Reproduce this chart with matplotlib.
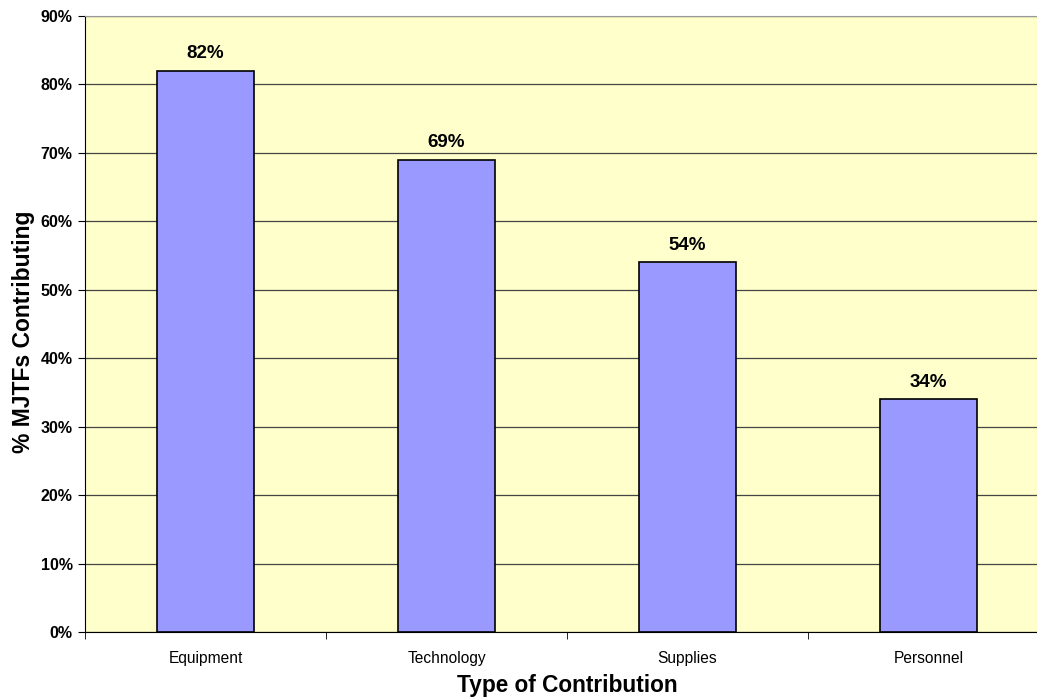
import matplotlib
matplotlib.use('Agg')
import matplotlib.pyplot as plt
from matplotlib.ticker import MultipleLocator, FixedLocator, FuncFormatter

categories = ['Equipment', 'Technology', 'Supplies', 'Personnel']
values = [82, 69, 54, 34]

plt.rcParams['font.family'] = ['Liberation Sans', 'DejaVu Sans']

fig = plt.figure(figsize=(10.37, 6.98), dpi=100)
ax = fig.add_axes([0.082, 0.0946, 0.9294, 0.8825])
ax.set_facecolor('#FFFFCC')

x = list(range(len(categories)))
ax.bar(x, values, width=0.4, color='#9999FF', edgecolor='black', linewidth=1.2, zorder=3)

for xi, v in zip(x, values):
    ax.annotate('{0}%'.format(v), (xi, v), xytext=(0, 6), textcoords='offset points',
                ha='center', va='bottom', fontsize=13.5, fontweight='bold')

ax.set_xlim(-0.5, len(categories) - 0.5)
ax.set_ylim(0, 90)
ax.yaxis.set_major_locator(MultipleLocator(10))
ax.yaxis.set_major_formatter(FuncFormatter(lambda v, p: '{0:.0f}%'.format(v)))
ax.grid(axis='y', color='#444444', linewidth=0.9, zorder=1)

ax.set_xticks(x)
ax.set_xticklabels(categories, fontsize=11.2)
ax.tick_params(axis='x', which='major', length=0, pad=14)
ax.xaxis.set_minor_locator(FixedLocator([i + 0.5 for i in range(-1, len(categories))]))
ax.tick_params(axis='x', which='minor', length=5, direction='out')
ax.tick_params(axis='y', length=5, direction='out', labelsize=11.5, pad=4)
for lbl in ax.get_yticklabels():
    lbl.set_fontweight('bold')

ax.spines['right'].set_visible(False)
ax.spines['top'].set_color('#999999')
ax.spines['left'].set_color('black')
ax.spines['bottom'].set_color('black')

ax.set_xlabel('Type of Contribution', fontsize=16.3, fontweight='bold')
ax.xaxis.set_label_coords(0.5, -0.068)
ax.set_ylabel('% MJTFs Contributing', fontsize=16.5, fontweight='bold', va='center')
ax.yaxis.set_label_coords(-0.064, 0.487)

fig.savefig('out.png', dpi=100)
